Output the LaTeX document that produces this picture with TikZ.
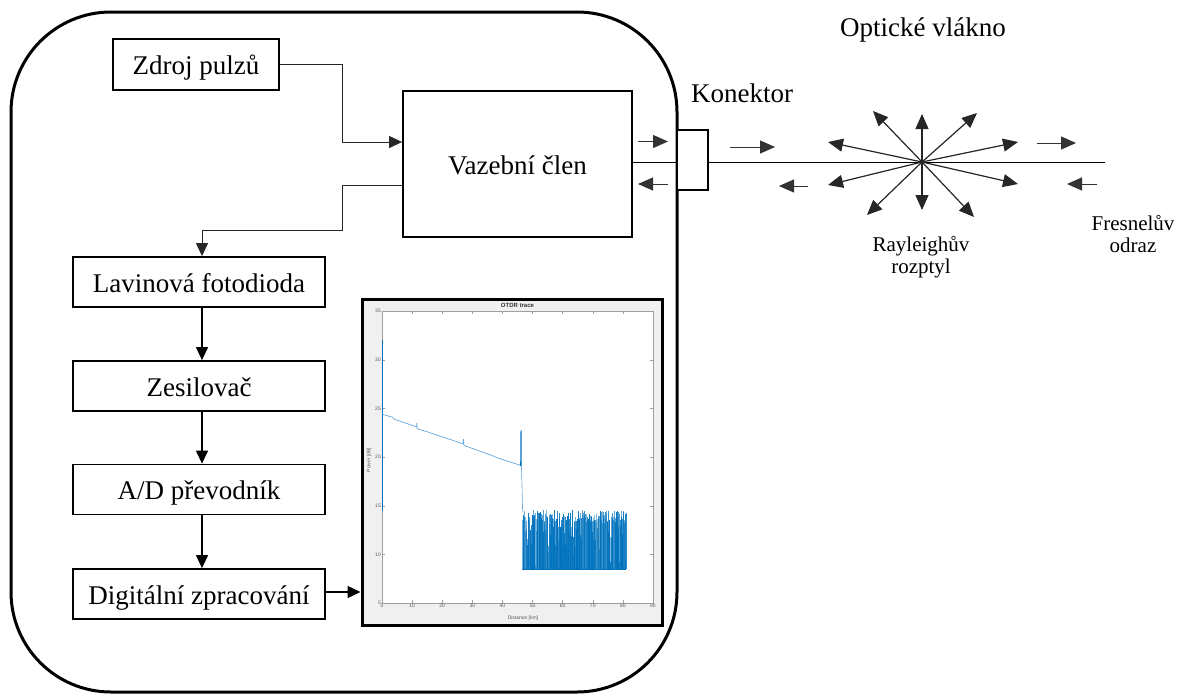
\documentclass[tikz,border=0pt]{standalone}
\usepackage{fontspec}
\setmainfont{Liberation Serif}
\newfontfamily\plotfont{Liberation Sans}
\usetikzlibrary{arrows.meta,calc}
\definecolor{mblue}{RGB}{0,114,189}
\definecolor{lblue}{RGB}{100,168,225}
\definecolor{figgray}{RGB}{240,240,240}
\begin{document}
\begin{tikzpicture}[x=1pt,y=-1pt,
  big/.style={font=\fontsize{27}{32}\selectfont},
  small/.style={font=\fontsize{21}{22}\selectfont, align=center},
  blk/.style={draw, line width=1.8pt, inner sep=0pt, big, text height=20pt, text depth=0pt},
  colbox/.style={blk, minimum width=252pt, minimum height=50pt},
  tip/.style={-{Triangle[length=13pt,width=12pt]}},
  conn/.style={line width=1pt, black!85},
  flow/.style={tip, line width=1.3pt},
  sarr/.style={-{Triangle[length=15pt,width=13pt]}, line width=1.2pt, black!85},
  darr/.style={-{Triangle[length=15pt,width=13pt]}, line width=1pt, black!80},
  tick/.style={gray!75, line width=0.4pt},
  tlab/.style={font=\plotfont\fontsize{5}{6}\selectfont, text=gray!70!black, inner sep=1pt}
]
\useasboundingbox (0,0) rectangle (1183,696);

% device outline
\node[draw, line width=3pt, rounded corners=100pt, minimum width=666pt, minimum height=680pt, inner sep=0pt] (dev) at (344,352) {};

% blocks
\node[blk, minimum width=166pt, minimum height=51pt] (zdroj) at (196,64.5) {Zdroj pulzů};
\node[blk, minimum width=229pt, minimum height=146pt] (vaz) at (517.5,164) {Vazební člen};
\node[colbox] (lav) at (199,282) {Lavinová fotodioda};
\node[colbox] (zes) at (199,386) {Zesilovač};
\node[colbox] (ad) at (199,489.5) {A/D převodník};
\node[colbox] (dig) at (199,594) {Digitální zpracování};

% plot frame
\node[draw, line width=3pt, fill=figgray, minimum width=300pt, minimum height=326pt, inner sep=0pt] (plot) at (512,462) {};

% connectors inside device
\draw[conn, tip] (zdroj.east) -- ++(63,0) |- ([yshift=22pt]vaz.west);
\coordinate (k1) at (342,230);
\draw[conn, tip] ([yshift=-21pt]vaz.west) -| (k1) -| ([xshift=3pt]lav.north);
\draw[flow] ([xshift=3pt]lav.south) -- ([xshift=3pt]zes.north);
\draw[flow] ([xshift=3pt]zes.south) -- ([xshift=3pt]ad.north);
\draw[flow] ([xshift=3pt]ad.south) -- ([xshift=3pt]dig.north);
\draw[flow] ([yshift=2pt]dig.east) -- ([yshift=2pt]dig.east -| plot.west);

% fiber
\coordinate (fend) at (1105,162);
\draw[line width=1pt] (vaz.east |- fend) -- (fend);
\node[draw, fill=white, line width=2.5pt, minimum width=31pt, minimum height=60pt, inner sep=0pt] (kon) at (692.5,160) {};

% direction arrows
\coordinate (a1s) at (638,141.5); \coordinate (a1e) at (668,141.5);
\coordinate (a2s) at (668,184); \coordinate (a2e) at (638,184);
\coordinate (a3s) at (730,147); \coordinate (a3e) at (775,147);
\coordinate (a4s) at (808,186); \coordinate (a4e) at (779,186);
\coordinate (a5s) at (1037,143); \coordinate (a5e) at (1076,143);
\coordinate (a6s) at (1097,184); \coordinate (a6e) at (1067,184);
\foreach \n in {1,...,6} \draw[darr] (a\n s) -- (a\n e);

% Rayleigh scattering
\coordinate (sc) at (922,162);
\foreach \xa/\ya [count=\i] in {922/114, 922/210, 873/111, 977/113, 828/142, 1018/142, 828/185, 1018/184, 867/215, 974/217}{
  \coordinate (s\i) at (\xa,\ya);
  \draw[sarr] (sc) -- (s\i);
}

% labels
\node[big, anchor=base] (ov) at (923,36) {Optické vlákno};
\node[big, anchor=base] (kl) at (742,102) {Konektor};
\node[small] (ray) at (921,257) {Rayleighův\\rozptyl};
\node[small] (fre) at (1133,234) {Fresnelův\\odraz};

% OTDR plot
\begin{scope}[shift={(382,651.65)}, x=3.011pt, y=9.73pt]
  \fill[white] (0,5) rectangle (90,35);
  \draw[tick] (0,5) rectangle (90,35);
  \foreach \k in {0,10,...,90}{
    \draw[tick] (\k,5) -- ++(0,0.3);
    \draw[tick] (\k,35) -- ++(0,-0.3);
    \node[tlab, below] at (\k,5) {\k};
  }
  \foreach \d in {5,10,...,35}{
    \draw[tick] (0,\d) -- ++(0.9,0);
    \draw[tick] (90,\d) -- ++(-0.9,0);
    \node[tlab, left] at (0,\d) {\d};
  }
  \node[font=\plotfont\bfseries\fontsize{6}{7}\selectfont, text=black!80, inner sep=0pt] at (45,35.55) {OTDR trace};
  \node[tlab, rotate=90] at (-4.3,19.7) {Power [dB]};
  \node[tlab] at (46.8,3.45) {Distance [km]};
  % data
  \pgfmathsetseed{7}
  \foreach \i in {0,...,229}{
    \pgfmathsetmacro{\xx}{46.6+\i*0.15}
    \pgfmathsetmacro{\hh}{14.6-1.2*rnd-4.8*rnd^4}
    \pgfmathsetmacro{\op}{0.45+0.55*rnd}
    \draw[mblue, line width=0.4pt, opacity=\op] (\xx,8.5) -- (\xx,\hh);
  }
  \draw[mblue, line width=0.4pt] (46.6,8.5) -- (81,8.5);
  \draw[mblue, line width=0.8pt] (0,14.5) -- (0,32);
  \draw[lblue, line width=0.7pt] (0,24.4) -- (3.5,24.1) -- (4,23.9) -- (11.5,23.1) -- (11.5,23.45) -- (11.6,23.45) -- (11.7,22.9)
    -- (15,22.6) -- (27,21.35) -- (27,21.8) -- (27.1,21.8) -- (27.2,21.2) -- (37,20.1) -- (38,19.95) -- (45.5,19.2) -- (46,19.1);
  \draw[mblue, line width=0.6pt] (46,19.1) -- (46.1,22.7) -- (46.3,22.7) -- (46.3,19.1);
  \draw[lblue, line width=0.6pt] (46.3,19.1) -- (46.5,17) -- (46.7,14.4);
\end{scope}
\end{tikzpicture}
\end{document}
